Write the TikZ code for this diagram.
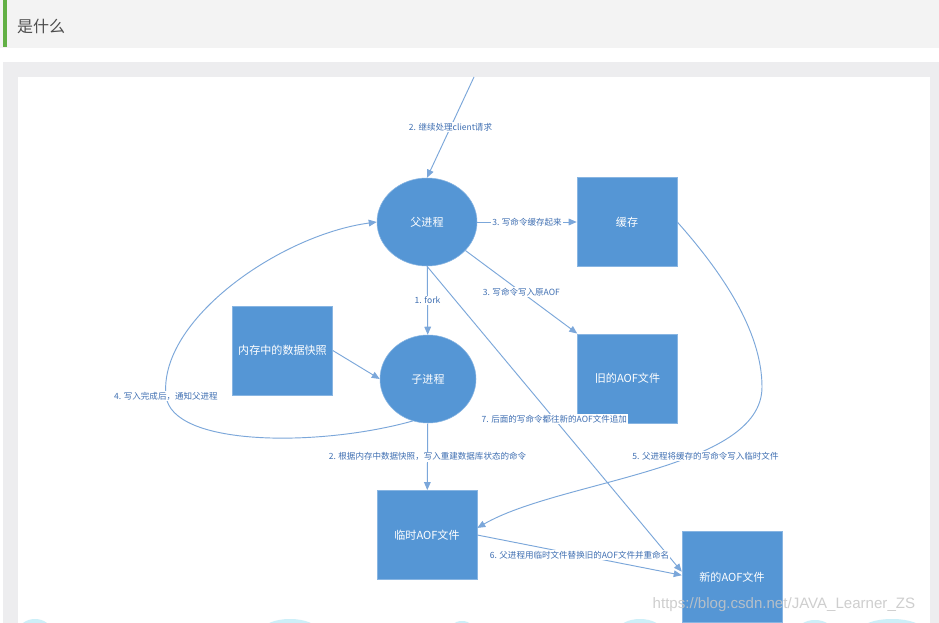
\documentclass[tikz,border=0pt]{standalone}
\usepackage{fontspec}
\setmainfont{Liberation Sans}
\newfontfamily\cjk{Noto Sans CJK SC}
\usetikzlibrary{shapes.geometric,arrows.meta,calc}
\definecolor{boxblue}{HTML}{5596D5}
\definecolor{lineblue}{HTML}{7BA7DA}
\definecolor{lblblue}{HTML}{3F6FB2}
\definecolor{panelgray}{HTML}{EDEDEF}
\definecolor{headgray}{HTML}{F3F3F3}
\definecolor{greenbar}{HTML}{62B045}
\definecolor{wave}{HTML}{CDEFF8}
\begin{document}
\begin{tikzpicture}[x=0.75pt,y=-0.75pt,
  rectbox/.style={rectangle, fill=boxblue, draw=boxblue!70!white, line width=0.4pt, minimum width=75pt, minimum height=67pt, text=white, font=\cjk\fontsize{8.3}{10}\selectfont, inner sep=0pt},
  proc/.style={ellipse, fill=boxblue, draw=boxblue!70!white, line width=0.4pt, minimum width=75pt, minimum height=66pt, text=white, font=\cjk\fontsize{8.3}{10}\selectfont, inner sep=0pt},
  conn/.style={draw=lineblue, line width=0.7pt, -{Triangle[length=6pt,width=5pt]}},
  lbl/.style={font=\cjk\fontsize{6.4}{7}\selectfont, text=lblblue, fill=white, inner sep=0.8pt},
]
\useasboundingbox (0,0) rectangle (939,623);
% header
\fill[headgray] (0,0) rectangle (939,48);
\fill[greenbar] (3,0) rectangle (7,47);
\node[anchor=west, font=\cjk\fontsize{12}{14}\selectfont, text=black!70] (title) at (12.5,26) {是什么};
% panel
\fill[panelgray] (3,62) rectangle (939,623);
\fill[white] (18,77) rectangle (930,623);
% waves at bottom
\begin{scope}
\clip (18,77) rectangle (930,623);
\fill[wave] (35,631) ellipse (16 and 12);
\fill[wave] (290,631) ellipse (28 and 12);
\fill[wave] (462,633) ellipse (14 and 12);
\fill[wave] (640,631) ellipse (22 and 12);
\fill[wave] (735,631) ellipse (40 and 12);
\fill[wave] (815,632) ellipse (18 and 12);
\fill[wave] (892,631) ellipse (32 and 12);
\end{scope}
% nodes
\node[proc] (fu) at (427,222) {父进程};
\node[rectbox] (cache) at (627,222) {缓存};
\node[proc, minimum width=72pt] (zi) at (428,379) {子进程};
\node[rectbox] (snap) at (282.5,350.5) {内存中的数据快照};
\node[rectbox] (old) at (627.5,378.5) {旧的AOF文件};
\node[rectbox] (tmp) at (427,535) {临时AOF文件};
\node[rectbox, minimum height=68pt] (new) at (732,577) {新的AOF文件};
% connectors
\coordinate (src) at (474,77);
\draw[conn] (src) -- node[lbl] {2. 继续处理client请求} (fu.north);
\draw[conn] (fu) -- node[lbl] {3. 写命令缓存起来} (cache);
\draw[conn] (fu) -- node[lbl] {3. 写命令写入原AOF} (old.north west);
\draw[conn] (fu) -- node[lbl] {1. fork} (zi);
\draw[conn] (snap.east) -- (zi.west);
\draw[conn] (zi) -- node[lbl] {2. 根据内存中数据快照，写入重建数据库状态的命令} (tmp);
\draw[conn] (zi.250) .. controls (320,447) and (172,447) .. (166,396)
   node[lbl] {4. 写入完成后，通知父进程}
   .. controls (158,320) and (280,235) .. (fu.west);
\draw[conn] (fu.south) -- node[lbl] {7. 后面的写命令都往新的AOF文件追加} (new.174);
\draw[conn] (cache.east) .. controls (720,270) and (762,330) .. (762,387)
   .. controls (762,470) and (560,480) .. node[lbl, pos=0.38, xshift=10pt] {5. 父进程将缓存的写命令写入临时文件} (tmp.8);
\draw[conn] (tmp.east) -- node[lbl] {6. 父进程用临时文件替换旧的AOF文件并重命名} (new.178);
% watermark
\node[anchor=west, font=\fontsize{11.3}{13}\selectfont, text=gray!45, opacity=0.85] (wm) at (648,605) {https://blog.csdn.net/JAVA\_Learner\_ZS};
\end{tikzpicture}
\end{document}
